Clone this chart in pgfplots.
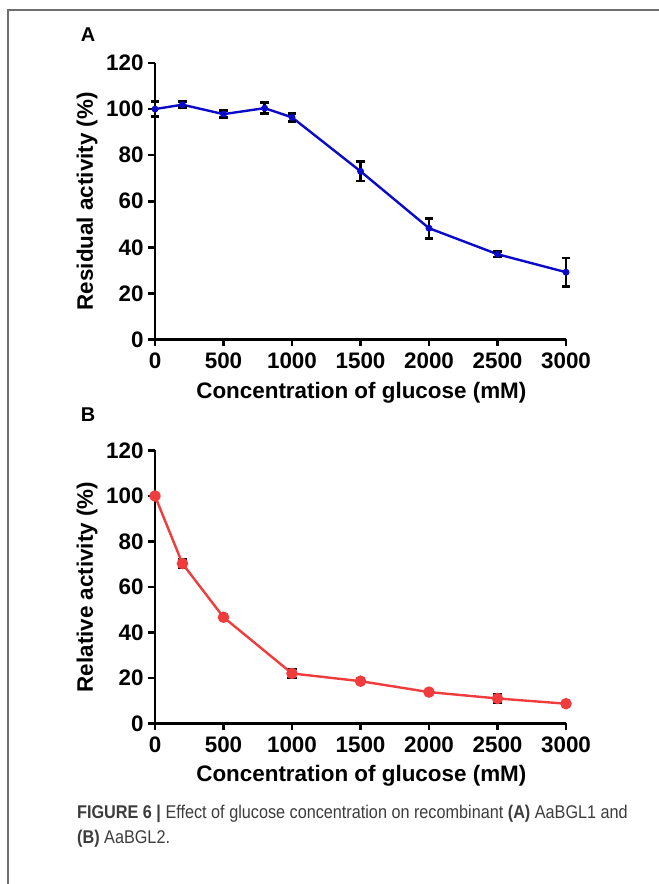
\documentclass[border=0pt]{standalone}
\usepackage{pgfplots}
\pgfplotsset{compat=1.18}
\usepackage{fontspec}
\setmainfont{Liberation Sans}
\newfontfamily\capfont[FakeStretch=0.88]{Liberation Sans}
\definecolor{lineblue}{RGB}{10,10,200}
\definecolor{linered}{RGB}{240,60,60}
\definecolor{framegray}{RGB}{110,110,110}
\definecolor{capgray}{RGB}{60,60,60}
\pgfplotsset{
  prism/.style={
    scale only axis, width=411bp,
    xmin=0, xmax=3000, ymin=0, ymax=120,
    axis x line=bottom, axis y line=left,
    axis line style={-, line width=2.6bp},
    xtick={0,500,1000,1500,2000,2500,3000},
    ytick={0,20,40,60,80,100,120},
    tick style={line width=2.6bp, black},
    tick align=outside, major tick length=7bp,
    tick label style={font=\fontsize{22.5}{25}\selectfont\bfseries},
    label style={font=\fontsize{22.5}{25}\selectfont\bfseries},
    /pgf/number format/assume math mode=true,
    /pgf/number format/1000 sep={},
    xticklabel style={yshift=-3bp},
    yticklabel style={xshift=-1bp},
    clip=false,
  }
}
\begin{document}
\begin{tikzpicture}[x=1bp,y=1bp]
\path[use as bounding box] (0,0) rectangle (659,884);
\draw[framegray, line width=1.5bp] (8,0) -- (8,874) -- (659,874);
\node[anchor=base, font=\fontsize{20}{22}\selectfont\bfseries] at (88,842) {A};
\node[anchor=base, font=\fontsize{20}{22}\selectfont\bfseries] at (88,462) {B};

\begin{axis}[prism, at={(155bp,544.5bp)}, anchor=south west, height=276.5bp,
  xlabel={Concentration of glucose (mM)},
  ylabel={Residual activity (\%)},
  xlabel style={at={(axis description cs:0.502,-0.212)}, anchor=base},
  ylabel style={at={(axis description cs:-0.165,0.5)}, anchor=center},
]
\addplot[lineblue, line width=2.4bp, mark=*, mark size=2.2bp,
  error bars/.cd, y dir=both, y explicit,
  error bar style={draw=black, line width=2.8bp},
  error mark options={draw=black, rotate=90, mark size=4.2bp, line width=2.8bp}]
  coordinates {
  (0,100) +- (0,3.3)
  (200,101.9) +- (0,1.3)
  (500,97.8) +- (0,1.5)
  (800,100.4) +- (0,2.4)
  (1000,96.4) +- (0,1.7)
  (1500,73) +- (0,4.2)
  (2000,48.3) +- (0,4.3)
  (2500,37) +- (0,1.2)
  (3000,29.2) +- (0,6.2)
  };
\end{axis}

\begin{axis}[prism, at={(155bp,160.5bp)}, anchor=south west, height=273bp,
  xlabel={Concentration of glucose (mM)},
  ylabel={Relative activity (\%)},
  xlabel style={at={(axis description cs:0.502,-0.214)}, anchor=base},
  ylabel style={at={(axis description cs:-0.165,0.5)}, anchor=center},
]
\addplot[draw=none, mark=none, forget plot,
  error bars/.cd, y dir=both, y explicit,
  error bar style={draw=black, line width=2.4bp},
  error mark options={draw=black, rotate=90, mark size=4.8bp, line width=2.4bp}]
  coordinates {
  (200,70.3) +- (0,1.8)
  (1000,22) +- (0,2)
  (1500,18.6) +- (0,1.2)
  (2500,11) +- (0,1.8)
  };
\addplot[linered, line width=2.4bp, mark=*, mark size=4.5bp,
  mark options={fill=linered, draw=linered}]
  coordinates {
  (0,100) (200,70.3) (500,46.7) (1000,22) (1500,18.6)
  (2000,13.8) (2500,11) (3000,8.7)
  };
\end{axis}

\node[anchor=base west, text=capgray, font=\capfont\fontsize{18.5}{20}\selectfont, inner sep=0] at (77,65)
  {\textbf{FIGURE 6 |} Effect of glucose concentration on recombinant \textbf{(A)} AaBGL1 and};
\node[anchor=base west, text=capgray, font=\capfont\fontsize{18.5}{20}\selectfont, inner sep=0] at (77,40)
  {\textbf{(B)} AaBGL2.};
\end{tikzpicture}
\end{document}
